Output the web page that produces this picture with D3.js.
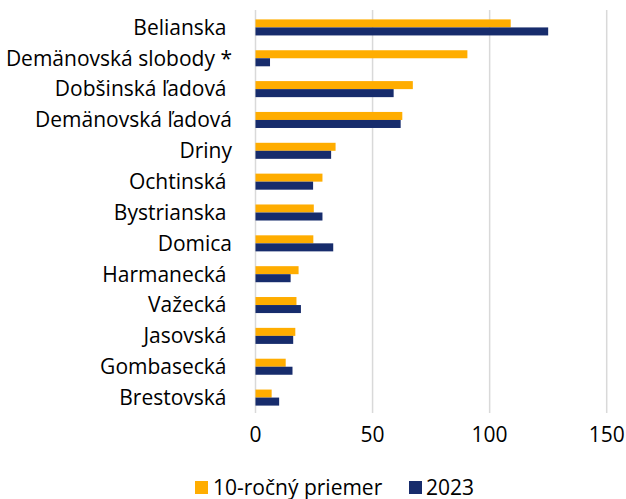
<!DOCTYPE html>
<html>
<head>
<meta charset="utf-8">
<script src="https://cdn.jsdelivr.net/npm/d3@7"></script>
<style>
  body { margin: 0; background: #fff; }
  text { font-family: "Open Sans", Lato, sans-serif; fill: #000; }
</style>
</head>
<body>
<div id="chart"></div>
<script>
// caves, top to bottom (trailing spaces kept as in the original labels)
const caves = ["Belianska ", "Demänovská slobody *", "Dobšinská ľadová ", "Demänovská ľadová", "Driny",
  "Ochtinská ", "Bystrianska ", "Domica", "Harmanecká ", "Važecká ", "Jasovská ", "Gombasecká ", "Brestovská "];
const avg10 = [109, 90.5, 67.2, 62.7, 34.2, 28.6, 24.9, 24.7, 18.4, 17.5, 17, 12.9, 6.9];
const y2023 = [125, 6.2, 59, 62, 32.3, 24.6, 28.6, 33.2, 15, 19.4, 16.1, 15.8, 10.1];
const ticks = [0, 50, 100, 150];
const seriesNames = ["10-ročný priemer", "2023"];
const colors = ["#FFAD00", "#172C6C"];

const width = 626, height = 499;
const margin = { top: 12, right: 20, bottom: 86, left: 255.5 };
const fs = "21px";

const svg = d3.select("#chart").append("svg").attr("width", width).attr("height", height);

const x = d3.scaleLinear().domain([0, 150]).range([margin.left, 606.7]);
const y = d3.scaleBand().domain(caves).range([margin.top, height - margin.bottom]).paddingInner(0.48).paddingOuter(0.24);
const sub = d3.scaleBand().domain([0, 1]).range([0, y.bandwidth()]);

// vertical gridlines
svg.append("g").selectAll("line").data(ticks).enter().append("line")
  .attr("x1", d => x(d)).attr("x2", d => x(d))
  .attr("y1", margin.top - 2).attr("y2", height - margin.bottom)
  .attr("stroke", "#d9d9d9").attr("stroke-width", 1.5);

// bars
const rows = caves.map((c, i) => ({ cave: c, vals: [avg10[i], y2023[i]] }));
const grp = svg.append("g").selectAll("g").data(rows).enter().append("g")
  .attr("transform", d => "translate(0," + y(d.cave) + ")");
grp.selectAll("rect").data(d => d.vals).enter().append("rect")
  .attr("x", x(0)).attr("y", (d, j) => sub(j))
  .attr("width", d => x(d) - x(0)).attr("height", sub.bandwidth())
  .attr("fill", (d, j) => colors[j]);

// category labels
svg.append("g").selectAll("text").data(caves).enter().append("text")
  .attr("x", 232).attr("y", d => y(d) + y.bandwidth() / 2)
  .attr("dy", "0.35em").attr("text-anchor", "end")
  .style("white-space", "pre").style("font-size", fs).text(d => d);

// x tick labels
svg.append("g").selectAll("text").data(ticks).enter().append("text")
  .attr("x", d => x(d)).attr("y", 442).attr("text-anchor", "middle")
  .style("font-size", fs).text(d => d);

// legend
const legend = [{ x: 195, tx: 213 }, { x: 409, tx: 426 }];
const lg = svg.append("g").selectAll("g").data(seriesNames).enter().append("g");
lg.append("rect").attr("x", (d, i) => legend[i].x).attr("y", 481).attr("width", 13).attr("height", 13)
  .attr("fill", (d, i) => colors[i]);
lg.append("text").attr("x", (d, i) => legend[i].tx).attr("y", 494.5)
  .style("font-size", fs).text(d => d);
</script>
</body>
</html>
